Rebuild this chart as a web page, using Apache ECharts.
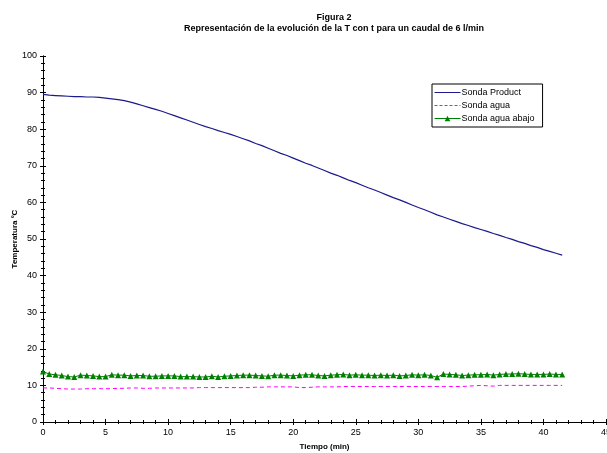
<!DOCTYPE html>
<html lang="es">
<head>
    <meta charset="UTF-8">
    <title>Figura 2</title>
    <script src="https://cdn.jsdelivr.net/npm/echarts@6/dist/echarts.min.js"></script>
    <style>
        html, body { margin: 0; padding: 0; background: #fff; }
        #chart { width: 607px; height: 453px; }
    </style>
</head>
<body>
<div id="chart"></div>
<script>
  // tiempo (min), una lectura cada 0.5 min
  var tiempo = [
    0, 0.5, 1, 1.5, 2, 2.5, 3, 3.5, 4, 4.5, 5, 5.5, 6, 6.5, 7, 7.5, 8, 8.5, 9, 9.5,
    10, 10.5, 11, 11.5, 12, 12.5, 13, 13.5, 14, 14.5, 15, 15.5, 16, 16.5, 17, 17.5, 18, 18.5, 19, 19.5,
    20, 20.5, 21, 21.5, 22, 22.5, 23, 23.5, 24, 24.5, 25, 25.5, 26, 26.5, 27, 27.5, 28, 28.5, 29, 29.5,
    30, 30.5, 31, 31.5, 32, 32.5, 33, 33.5, 34, 34.5, 35, 35.5, 36, 36.5, 37, 37.5, 38, 38.5, 39, 39.5,
    40, 40.5, 41, 41.5
  ];

  var sondaProduct = [
    89.5, 89.3, 89.2, 89.1, 89.0, 88.9, 88.9, 88.8, 88.8, 88.7, 88.5, 88.3, 88.1, 87.8, 87.4, 86.9, 86.4, 85.9, 85.4, 84.9,
    84.3, 83.7, 83.1, 82.5, 81.9, 81.3, 80.7, 80.2, 79.6, 79.1, 78.6, 78.0, 77.4, 76.8, 76.1, 75.5, 74.8, 74.1, 73.4, 72.8,
    72.1, 71.4, 70.7, 70.1, 69.4, 68.7, 68.0, 67.4, 66.7, 66.0, 65.4, 64.7, 64.0, 63.4, 62.7, 62.0, 61.3, 60.7, 60.0, 59.3,
    58.6, 58.0, 57.3, 56.6, 56.0, 55.4, 54.8, 54.2, 53.7, 53.1, 52.6, 52.1, 51.5, 51.0, 50.4, 49.9, 49.3, 48.8, 48.2, 47.7,
    47.1, 46.6, 46.1, 45.6
  ];

  var sondaAgua = [
    9.3, 9.3, 9.2, 9.1, 9.0, 9.0, 9.0, 9.1, 9.1, 9.1, 9.1, 9.1, 9.2, 9.2, 9.3, 9.3, 9.2, 9.2,
    9.3, 9.3, 9.3, 9.3, 9.3, 9.3, 9.3, 9.4, 9.4, 9.4, 9.4, 9.4, 9.4, 9.4, 9.4, 9.4, 9.5, 9.5,
    9.6, 9.6, 9.6, 9.6, 9.6, 9.4, 9.4, 9.5,
    9.6, 9.6, 9.6, 9.6, 9.7, 9.7, 9.7, 9.7, 9.7, 9.7, 9.7, 9.7, 9.7, 9.7, 9.7, 9.7, 9.7, 9.7, 9.7, 9.7,
    9.7, 9.7, 9.7, 9.7, 9.8,
    9.9, 10.0, 9.9, 9.8,
    10.0, 10.0, 10.0, 10.0, 10.0, 10.0, 10.0, 10.0, 10.0, 10.0, 10.0
  ];

  var sondaAguaAbajo = [
    13.8, 13.1, 12.9, 12.7, 12.4, 12.3, 12.8, 12.7, 12.6, 12.4, 12.4, 12.9, 12.8, 12.8, 12.6, 12.7, 12.7, 12.5, 12.5, 12.6,
    12.6, 12.6, 12.4, 12.4, 12.4, 12.3, 12.3, 12.5, 12.3, 12.5, 12.6, 12.7, 12.8, 12.8, 12.7, 12.6, 12.5, 12.8, 12.8, 12.7,
    12.6, 12.8, 12.9, 12.9, 12.7, 12.6,
    12.8, 12.9, 13.0, 12.8, 12.9, 12.8, 12.8, 12.7, 12.8, 12.7, 12.8, 12.6, 12.7, 12.9, 12.8, 12.9, 12.7, 12.2, 13.1, 13.0,
    12.9, 12.7, 12.8, 12.9, 12.9, 13.0, 12.8, 13.0, 13.1, 13.1, 13.2, 13.1, 13.0, 13.0, 13.0, 13.1, 13.0, 13.0
  ];

  function pairs(ys) {
    return tiempo.map(function (t, i) { return [t, ys[i]]; });
  }

  var FONT = 'Liberation Sans, Arial, sans-serif';
  var myChart = echarts.init(document.getElementById('chart'), null, { renderer: 'canvas' });

  var xBase = {
    type: 'value', min: 0, max: 45, interval: 5,
    splitLine: { show: false },
    axisLine: { lineStyle: { color: '#000', width: 1 } },
    minorTick: { show: true, splitNumber: 5, length: 2, lineStyle: { color: '#000' } }
  };
  var yBase = {
    type: 'value', min: 0, max: 100, interval: 10,
    splitLine: { show: false },
    axisLine: { lineStyle: { color: '#000', width: 1 } },
    minorTick: { show: true, splitNumber: 5, length: 2, lineStyle: { color: '#000' } }
  };

  // dashed legend sample for "Sonda agua" (26 x 1 box, aspect kept)
  var dashIcon = 'path://M0,0h3v1h-3z M5,0h3v1h-3z M10,0h3v1h-3z M15,0h3v1h-3z M20,0h3v1h-3z M25,0h1v1h-1z';

  myChart.setOption({
    animation: false,
    backgroundColor: '#fff',
    color: ['#1a1a8c', '#ff00ff', '#008000'],
    textStyle: { fontFamily: FONT },
    title: [
      {
        text: 'Figura 2', left: 329, top: 8, textAlign: 'center',
        textStyle: { fontSize: 9, fontWeight: 'bold', color: '#000', fontFamily: FONT }
      },
      {
        text: 'Representación de la evolución de la T con t para un caudal de 6 l/min', left: 329, top: 19, textAlign: 'center',
        textStyle: { fontSize: 9, fontWeight: 'bold', color: '#000', fontFamily: FONT }
      }
    ],
    legend: {
      orient: 'vertical',
      left: 432, top: 84,
      padding: [4, 8, 4, 2],
      itemGap: 4,
      itemWidth: 26, itemHeight: 7,
      symbolKeepAspect: true,
      borderColor: '#000', borderWidth: 1, borderRadius: 0,
      textStyle: { fontSize: 9, color: '#000', fontFamily: FONT, padding: [0, 0, 0, -4] },
      data: [
        { name: 'Sonda Product', itemStyle: { opacity: 0 }, lineStyle: { color: '#1a1a8c', width: 1 } },
        { name: 'Sonda agua', icon: dashIcon, itemStyle: { color: '#ff00ff' } },
        { name: 'Sonda agua abajo', lineStyle: { color: '#008000', width: 1 } }
      ]
    },
    grid: { left: 43, right: 1, top: 56, bottom: 31, outerBoundsMode: 'none', containLabel: false },
    xAxis: [
      Object.assign({}, xBase, {
        name: 'Tiempo (min)', nameLocation: 'middle', nameGap: 21, nameMoveOverlap: false,
        nameTextStyle: { fontSize: 8, fontWeight: 'bold', color: '#000', fontFamily: FONT },
        axisTick: { show: true, inside: false, length: 3, lineStyle: { color: '#000' } },
        axisLabel: { fontSize: 9, color: '#000', margin: 6, fontFamily: FONT }
      }),
      Object.assign({}, xBase, {
        position: 'bottom',
        axisTick: { show: true, inside: true, length: 3, lineStyle: { color: '#000' } },
        axisLabel: { show: false }
      })
    ],
    yAxis: [
      Object.assign({}, yBase, {
        name: 'Temperatura ºC', nameLocation: 'middle', nameGap: 24, nameMoveOverlap: false,
        nameTextStyle: { fontSize: 8, fontWeight: 'bold', color: '#000', fontFamily: FONT },
        axisTick: { show: true, inside: false, length: 3, lineStyle: { color: '#000' } },
        axisLabel: { fontSize: 9, color: '#000', margin: 6, fontFamily: FONT }
      }),
      Object.assign({}, yBase, {
        position: 'left',
        axisTick: { show: true, inside: true, length: 3, lineStyle: { color: '#000' } },
        axisLabel: { show: false }
      })
    ],
    series: [
      {
        name: 'Sonda Product',
        type: 'line',
        symbol: 'none',
        color: '#1a1a8c',
        lineStyle: { color: '#1a1a8c', width: 1.2 },
        data: pairs(sondaProduct)
      },
      {
        name: 'Sonda agua',
        type: 'line',
        symbol: 'none',
        color: '#ff00ff',
        lineStyle: { color: '#ff00ff', width: 1, type: [4, 3] },
        data: pairs(sondaAgua)
      },
      {
        name: 'Sonda agua abajo',
        type: 'line',
        symbol: 'triangle', symbolSize: 6, showAllSymbol: true,
        color: '#008000',
        lineStyle: { color: '#008000', width: 1 },
        data: pairs(sondaAguaAbajo)
      }
    ]
  });
</script>
</body>
</html>
